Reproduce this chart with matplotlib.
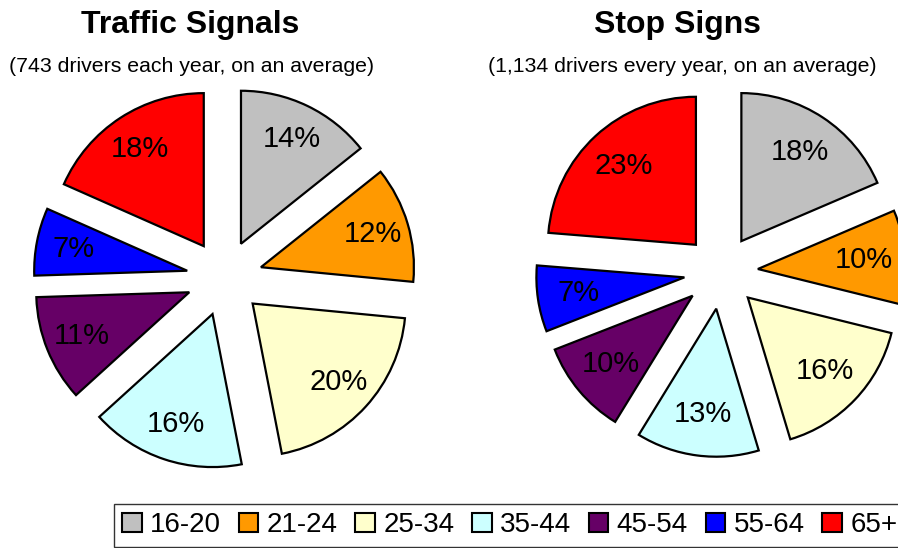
import numpy as np
import matplotlib
matplotlib.use('Agg')
import matplotlib.pyplot as plt
from matplotlib.patches import Patch

plt.rcParams['font.family'] = ['Liberation Sans', 'DejaVu Sans']

age_groups = ['16-20', '21-24', '25-34', '35-44', '45-54', '55-64', '65+']
colors = ['#C0C0C0', '#FF9900', '#FFFFCC', '#CCFFFF', '#660066', '#0000FF', '#FF0000']

signals_pct = [14, 12, 20, 16, 11, 7, 18]  # Traffic Signals
stops_pct = [18, 10, 16, 13, 10, 7, 23]  # Stop Signs

titles = ['Traffic Signals', 'Stop Signs']
subtitles = ['(743 drivers each year, on an average)',
             '(1,134 drivers every year, on an average)']

W, H = 898, 548
fig = plt.figure(figsize=(W / 100, H / 100), dpi=100)
ax = fig.add_axes([0, 0, 1, 1])


def draw_pie(values, center, radius, expl, lab_dist):
    wedges, _ = ax.pie(values, colors=colors, startangle=90, counterclock=False,
                       center=center, radius=radius, explode=[expl] * len(values),
                       wedgeprops=dict(edgecolor='black', linewidth=1.6),
                       frame=True)
    for w, v in zip(wedges, values):
        ang = np.deg2rad((w.theta1 + w.theta2) / 2)
        cx, cy = w.center
        ax.text(cx + lab_dist * radius * np.cos(ang), cy + lab_dist * radius * np.sin(ang),
                f'{v}%', ha='center', va='center', fontsize=21, color='black')


draw_pie(signals_pct, (224.5, H - 278), 153, 38, 0.76)
draw_pie(stops_pct, (721, H - 272), 148, 37, 0.72)

ax.set_xlim(0, W)
ax.set_ylim(0, H)
ax.set_aspect('auto')
ax.axis('off')

for x, t, s, sx in [(190, titles[0], subtitles[0], 192), (678, titles[1], subtitles[1], 682)]:
    ax.text(x, H - 33, t, ha='center', va='baseline', fontsize=23, fontweight='bold')
    ax.text(sx, H - 72, s, ha='center', va='baseline', fontsize=15.3)

handles = [Patch(facecolor=c, edgecolor='black', linewidth=1.5) for c in colors]
leg = fig.legend(handles, age_groups, loc='upper left', bbox_to_anchor=(114 / W, 1 - 504 / H),
                 ncol=7, fontsize=20, frameon=True, fancybox=False, borderaxespad=0,
                 handlelength=0.7, handleheight=0.7, handletextpad=0.3,
                 columnspacing=0.64, borderpad=0.3)
leg.get_frame().set_edgecolor('black')
leg.get_frame().set_linewidth(1.0)

fig.savefig('out.png', dpi=100)
